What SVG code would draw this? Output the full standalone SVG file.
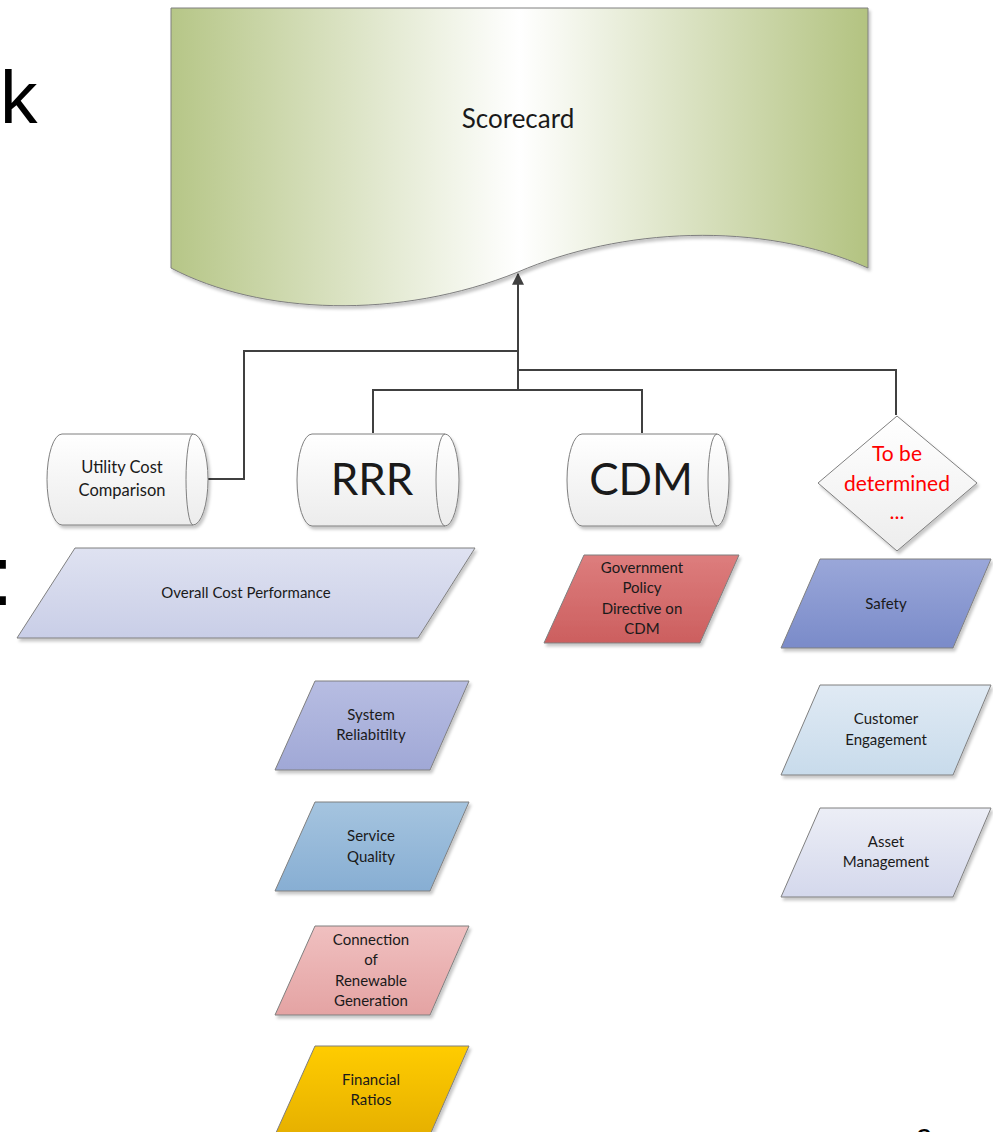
<svg xmlns="http://www.w3.org/2000/svg" width="993" height="1132" viewBox="0 0 993 1132">
<style>
.lbl{font-family:Lato,"Liberation Sans",sans-serif;fill:#1a1a1a;text-anchor:middle}
.s15{font-size:15px}
.shape{stroke:#7f7f7f;stroke-width:1}
.conn{fill:none;stroke:#404040;stroke-width:2}
.title{font-family:"Liberation Sans",Arial,sans-serif;fill:#000}
</style>
<defs>
<filter id="sh" x="-10%" y="-10%" width="130%" height="130%">
<feGaussianBlur in="SourceAlpha" stdDeviation="1.5"/>
<feOffset dx="2" dy="3" result="o"/>
<feFlood flood-color="#000" flood-opacity="0.22"/>
<feComposite in2="o" operator="in"/>
<feMerge><feMergeNode/><feMergeNode in="SourceGraphic"/></feMerge>
</filter>
<linearGradient id="gScore" x1="0" y1="0" x2="1" y2="0">
<stop offset="0" stop-color="#b6c687"/>
<stop offset="0.5" stop-color="#ffffff"/>
<stop offset="1" stop-color="#b3c381"/>
</linearGradient>
<linearGradient id="gCyl" x1="0" y1="0" x2="0" y2="1">
<stop offset="0" stop-color="#ffffff"/>
<stop offset="1" stop-color="#ececec"/>
</linearGradient>
<linearGradient id="gDia" x1="0" y1="0" x2="0" y2="1">
<stop offset="0" stop-color="#ffffff"/>
<stop offset="1" stop-color="#ededed"/>
</linearGradient>
<linearGradient id="gOver" x1="0" y1="0" x2="0" y2="1">
<stop offset="0" stop-color="#dfe2f1"/>
<stop offset="1" stop-color="#c9cee7"/>
</linearGradient>
<linearGradient id="gGov" x1="0" y1="0" x2="0" y2="1">
<stop offset="0" stop-color="#dd7d7d"/>
<stop offset="1" stop-color="#cc5f5f"/>
</linearGradient>
<linearGradient id="gSys" x1="0" y1="0" x2="0" y2="1">
<stop offset="0" stop-color="#b7bde2"/>
<stop offset="1" stop-color="#a0a8d6"/>
</linearGradient>
<linearGradient id="gSvc" x1="0" y1="0" x2="0" y2="1">
<stop offset="0" stop-color="#a5c4df"/>
<stop offset="1" stop-color="#87aed3"/>
</linearGradient>
<linearGradient id="gCon" x1="0" y1="0" x2="0" y2="1">
<stop offset="0" stop-color="#f0c0c0"/>
<stop offset="1" stop-color="#e4a3a3"/>
</linearGradient>
<linearGradient id="gFin" x1="0" y1="0" x2="0" y2="1">
<stop offset="0" stop-color="#ffcc00"/>
<stop offset="1" stop-color="#e6b000"/>
</linearGradient>
<linearGradient id="gSaf" x1="0" y1="0" x2="0" y2="1">
<stop offset="0" stop-color="#9aa7d9"/>
<stop offset="1" stop-color="#7a8bc9"/>
</linearGradient>
<linearGradient id="gCus" x1="0" y1="0" x2="0" y2="1">
<stop offset="0" stop-color="#e0eaf4"/>
<stop offset="1" stop-color="#c8dbeb"/>
</linearGradient>
<linearGradient id="gAss" x1="0" y1="0" x2="0" y2="1">
<stop offset="0" stop-color="#eceef6"/>
<stop offset="1" stop-color="#d4d8ec"/>
</linearGradient>
<marker id="arr" viewBox="0 0 10 10" refX="9" refY="5" markerWidth="7" markerHeight="6" markerUnits="strokeWidth" orient="auto">
<path d="M0,0 L10,5 L0,10 Z" fill="#404040"/>
</marker>
</defs>

<rect width="993" height="1132" fill="#ffffff"/>

<!-- partial slide title characters -->
<g id="slide-text">
<text class="title" x="0" y="123" font-size="75">k</text>
<text class="title" x="-10" y="605" font-size="85">:</text>
<text class="title" x="916" y="1149" font-size="30">9</text>
</g>

<g id="connectors">
<polyline class="conn" points="199,479 244,479 244,351 518,351"/>
<polyline class="conn" points="373,433 373,390 642,390 642,433"/>
<polyline class="conn" points="896,415 896,370 518,370"/>
<line class="conn" x1="518" y1="390" x2="518" y2="274" marker-end="url(#arr)"/>
</g>

<g id="scorecard">
<path class="shape" filter="url(#sh)" fill="url(#gScore)" d="M171,8 H868 V268 C760,220 620,228 518,272 C400,320 260,315 171,268 Z"/>
<text class="lbl" x="518" y="128" font-size="26">Scorecard</text>
</g>

<g id="utility-cost">
<path class="shape" filter="url(#sh)" fill="url(#gCyl)" d="M62,434 H193 A15,45.5 0 0 1 193,525 H62 A15,45.5 0 0 1 62,434 Z"/>
<path class="shape" fill="none" d="M193,434 A7,45.5 0 0 0 193,525"/>
<text class="lbl" x="122" y="473" font-size="16.5">Utility Cost</text>
<text class="lbl" x="122" y="496" font-size="16.5">Comparison</text>
</g>

<g id="rrr">
<path class="shape" filter="url(#sh)" fill="url(#gCyl)" d="M312,434 H445 A14,46 0 0 1 445,526 H312 A15,46 0 0 1 312,434 Z"/>
<path class="shape" fill="none" d="M445,434 A9,46 0 0 0 445,526"/>
<text class="lbl" x="372" y="495" font-size="44">RRR</text>
</g>

<g id="cdm">
<path class="shape" filter="url(#sh)" fill="url(#gCyl)" d="M582,434 H717 A12,46 0 0 1 717,526 H582 A15,46 0 0 1 582,434 Z"/>
<path class="shape" fill="none" d="M717,434 A9,46 0 0 0 717,526"/>
<text class="lbl" x="641" y="495" font-size="44">CDM</text>
</g>

<g id="tbd">
<polygon class="shape" filter="url(#sh)" fill="url(#gDia)" points="897,416 977,483 897,551 818,483"/>
<text class="lbl" x="897" y="461" font-size="21" style="fill:#ff0000">To be</text>
<text class="lbl" x="897" y="491" font-size="21" style="fill:#ff0000">determined</text>
<text class="lbl" x="897" y="519" font-size="21" style="fill:#ff0000">...</text>
</g>

<g id="overall-cost">
<polygon class="shape" filter="url(#sh)" fill="url(#gOver)" points="75,548 475,548 418,638 17,638"/>
<text class="lbl s15" x="246" y="598">Overall Cost Performance</text>
</g>

<g id="gov-policy">
<polygon class="shape" filter="url(#sh)" fill="url(#gGov)" points="584,555 739,555 700,643 544,643"/>
<text class="lbl s15" x="642" y="573">Government</text>
<text class="lbl s15" x="642" y="593">Policy</text>
<text class="lbl s15" x="642" y="614">Directive on</text>
<text class="lbl s15" x="642" y="634">CDM</text>
</g>

<g id="system-reliability">
<polygon class="shape" filter="url(#sh)" fill="url(#gSys)" points="315,681 469,681 430,770 275,770"/>
<text class="lbl s15" x="371" y="720">System</text>
<text class="lbl s15" x="371" y="740">Reliabitilty</text>
</g>

<g id="service-quality">
<polygon class="shape" filter="url(#sh)" fill="url(#gSvc)" points="315,802 469,802 430,891 275,891"/>
<text class="lbl s15" x="371" y="841">Service</text>
<text class="lbl s15" x="371" y="862">Quality</text>
</g>

<g id="connection-renewable">
<polygon class="shape" filter="url(#sh)" fill="url(#gCon)" points="315,926 469,926 430,1015 275,1015"/>
<text class="lbl s15" x="371" y="945">Connection</text>
<text class="lbl s15" x="371" y="965">of</text>
<text class="lbl s15" x="371" y="986">Renewable</text>
<text class="lbl s15" x="371" y="1006">Generation</text>
</g>

<g id="financial-ratios">
<polygon class="shape" filter="url(#sh)" fill="url(#gFin)" points="315,1046 469,1046 430,1135 275,1135"/>
<text class="lbl s15" x="371" y="1085">Financial</text>
<text class="lbl s15" x="371" y="1105">Ratios</text>
</g>

<g id="safety">
<polygon class="shape" filter="url(#sh)" fill="url(#gSaf)" points="820,559 991,559 953,648 781,648"/>
<text class="lbl s15" x="886" y="609">Safety</text>
</g>

<g id="customer-engagement">
<polygon class="shape" filter="url(#sh)" fill="url(#gCus)" points="820,685 991,685 953,775 781,775"/>
<text class="lbl s15" x="886" y="724">Customer</text>
<text class="lbl s15" x="886" y="745">Engagement</text>
</g>

<g id="asset-management">
<polygon class="shape" filter="url(#sh)" fill="url(#gAss)" points="820,808 991,808 953,897 781,897"/>
<text class="lbl s15" x="886" y="847">Asset</text>
<text class="lbl s15" x="886" y="867">Management</text>
</g>
</svg>
